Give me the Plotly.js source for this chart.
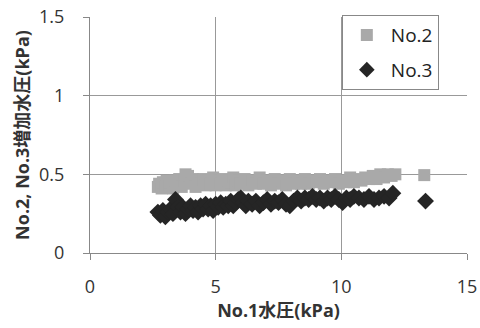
<!DOCTYPE html>
<html><head><meta charset="utf-8">
<script src="https://cdn.plot.ly/plotly-3.0.1.min.js"></script>
<style>html,body{margin:0;padding:0;background:#fff}#chart{width:480px;height:328px}</style>
</head><body><div id="chart"></div>
<script>
var no2X = [2.7,2.75,2.85,2.9,3.0,3.05,3.15,3.2,3.3,3.4,3.5,3.55,3.65,3.75,3.8,3.9,4.0,4.1,4.2,4.3,4.4,4.5,4.6,4.7,4.8,4.9,5.0,5.1,5.2,5.3,5.4,5.5,5.6,5.7,5.8,5.9,6.0,6.15,6.3,6.45,6.6,6.75,6.9,7.05,7.2,7.35,7.5,7.65,7.8,7.95,8.1,8.25,8.4,8.55,8.7,8.85,9.0,9.15,9.3,9.45,9.6,9.75,9.9,10.05,10.2,10.35,10.5,10.65,10.8,10.95,11.1,11.25,11.4,11.55,11.7,11.85,12.0,12.15,13.3];
var no2Y = [0.42,0.44,0.41,0.45,0.42,0.46,0.43,0.45,0.41,0.46,0.43,0.47,0.42,0.46,0.50,0.49,0.44,0.47,0.42,0.46,0.44,0.47,0.43,0.46,0.44,0.48,0.43,0.46,0.44,0.47,0.43,0.46,0.45,0.48,0.43,0.46,0.44,0.47,0.43,0.46,0.44,0.48,0.44,0.46,0.43,0.47,0.44,0.46,0.43,0.47,0.44,0.46,0.44,0.47,0.44,0.46,0.45,0.47,0.44,0.46,0.45,0.47,0.44,0.46,0.45,0.48,0.45,0.47,0.46,0.48,0.47,0.49,0.47,0.50,0.48,0.50,0.49,0.50,0.495];
var no3X = [2.7,2.8,2.9,3.0,3.1,3.2,3.3,3.4,3.5,3.6,3.7,3.8,3.9,4.0,4.1,4.2,4.3,4.4,4.5,4.6,4.7,4.8,4.9,5.0,5.1,5.2,5.3,5.4,5.5,5.6,5.7,5.8,5.9,6.0,6.1,6.2,6.3,6.45,6.6,6.75,6.9,7.05,7.2,7.35,7.5,7.65,7.8,7.95,8.1,8.25,8.4,8.55,8.7,8.85,9.0,9.15,9.3,9.45,9.6,9.75,9.9,10.05,10.2,10.35,10.5,10.7,10.9,11.1,11.3,11.5,11.7,11.9,12.05,13.35];
var no3Y = [0.26,0.24,0.27,0.23,0.26,0.28,0.25,0.34,0.29,0.26,0.29,0.25,0.28,0.30,0.27,0.29,0.26,0.30,0.28,0.31,0.28,0.30,0.27,0.31,0.29,0.32,0.29,0.31,0.30,0.33,0.30,0.32,0.34,0.35,0.32,0.30,0.33,0.31,0.33,0.30,0.32,0.34,0.31,0.33,0.32,0.34,0.31,0.30,0.33,0.35,0.33,0.35,0.34,0.36,0.34,0.35,0.33,0.35,0.34,0.36,0.34,0.32,0.35,0.34,0.36,0.35,0.34,0.36,0.34,0.35,0.36,0.35,0.38,0.33];
var seriesNames = ["No.2","No.3"];
var xTicks = [0,5,10,15];
var yTicks = [0,0.5,1,1.5];
var yTickText = ["0","0.5","1","1.5"];

var fam = "Open Sans, Noto Sans CJK JP, sans-serif";
var traces = [
  {x:no2X, y:no2Y, name:seriesNames[0], legendgroup:"a", type:"scatter", mode:"markers",
   marker:{symbol:"square", size:12, color:"#a9a9a9"}},
  {x:no3X, y:no3Y, name:seriesNames[1], legendgroup:"b", type:"scatter", mode:"markers",
   marker:{symbol:"diamond", size:13, color:"#252525"}}
];
var layout = {
  width:480, height:328,
  margin:{l:90, r:13, t:17, b:75},
  paper_bgcolor:"#fff", plot_bgcolor:"#fff",
  showlegend:true,
  legend:{x:0.668, y:1.008, xanchor:"left", yanchor:"top",
    bordercolor:"#888", borderwidth:1, bgcolor:"#fff",
    font:{family:fam, size:19, color:"#222"}, itemsizing:"constant",
    tracegroupgap:7, itemwidth:38},
  xaxis:{range:[0,15], tickvals:xTicks, ticktext:xTicks.map(String),
    showgrid:true, gridcolor:"#999", gridwidth:1, zeroline:false,
    showline:true, linecolor:"#888", ticks:"outside", ticklen:6, tickcolor:"#888",
    ticklabelstandoff:11,
    tickfont:{family:fam, size:18, color:"#333"},
    title:{text:"<b>No.1水圧(kPa)</b>", font:{family:fam, size:18, color:"#333"}, standoff:6}},
  yaxis:{range:[0,1.5], tickvals:yTicks, ticktext:yTickText,
    showgrid:true, gridcolor:"#999", gridwidth:1, zeroline:false,
    showline:true, linecolor:"#888", ticks:"outside", ticklen:6, tickcolor:"#888",
    ticklabelstandoff:15,
    tickfont:{family:fam, size:18, color:"#333"},
    title:{text:"<b>No.2, No.3増加水圧(kPa)</b>", font:{family:fam, size:18, color:"#333"}, standoff:4}}
};
Plotly.newPlot("chart", traces, layout, {staticPlot:true});
</script></body></html>
